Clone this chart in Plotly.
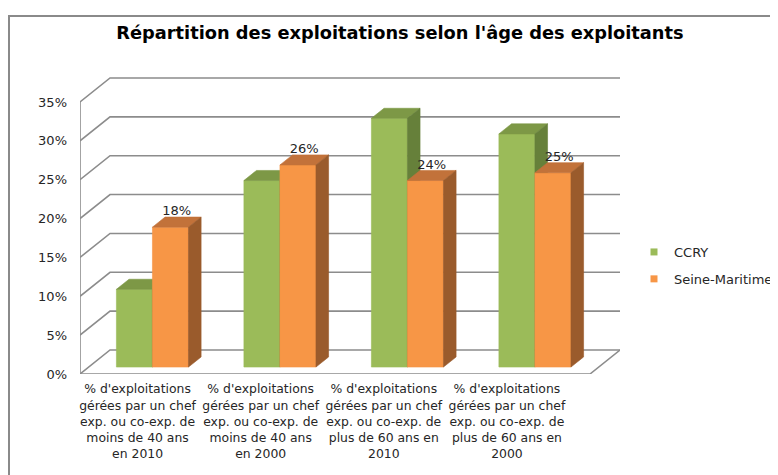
import plotly.graph_objects as go

# ---------------- data ----------------
categories = [
    "% d'exploitations<br>gérées par un chef<br>exp. ou co-exp. de<br>moins de 40 ans<br>en 2010",
    "% d'exploitations<br>gérées par un chef<br>exp. ou co-exp. de<br>moins de 40 ans<br>en 2000",
    "% d'exploitations<br>gérées par un chef<br>exp. ou co-exp. de<br>plus de 60 ans en<br>2010",
    "% d'exploitations<br>gérées par un chef<br>exp. ou co-exp. de<br>plus de 60 ans en<br>2000",
]
series_names = ["CCRY", "Seine-Maritime"]
ccry = [10, 24, 32, 30]
seine_maritime = [18, 26, 24, 25]
y_ticks = [0, 5, 10, 15, 20, 25, 30, 35]
title_text = "Répartition des exploitations selon l'âge des exploitants"

# ---------------- layout geometry (page pixels) ----------------
PAGE_W, PAGE_H = 778, 475
OFF = 8                                  # default page body margin
WF, HF = PAGE_W - OFF, PAGE_H - OFF      # figure size


def fx(p):
    return (p - OFF) / WF


def fy(p):
    return 1 - (p - OFF) / HF


PX_L, PX_RF, PX_R = 80, 589.5, 620      # front-left, front-right, back-right x
PX_B, PX_T = 374, 70                    # front floor y, top of plot area
PX_35 = 102                             # front 35% level
DEPTH_PX_X, DEPTH_PX_Y = 30, 24         # oblique depth offset
n = len(categories)
ux = (PX_RF - PX_L) / n                 # px per category unit
uy = (PX_B - PX_35) / y_ticks[-1]       # px per percent
DX = DEPTH_PX_X / ux
DY = DEPTH_PX_Y / uy
YTOP = (PX_B - PX_T) / uy
ZF, ZD = 0.29, 0.42                     # bar front depth, bar depth
BAR_W = 36 / ux
LABEL_START, LABEL_PITCH = 137.5, 123   # category label centres (px)

GRID = "#8c8c8c"
FONT = "DejaVu Sans"
TXT = "#262626"
colors = {
    "CCRY": ("#9BBB59", "#7D9846", "#66803A"),
    "Seine-Maritime": ("#F79646", "#C2723A", "#9A5B2C"),
}

fig = go.Figure()

# ---------------- walls & floor (as line traces) ----------------
def line(xs, ys):
    fig.add_trace(go.Scatter(x=xs, y=ys, mode="lines", line=dict(color=GRID, width=1.6),
                             hoverinfo="skip", showlegend=False))

for v in y_ticks:
    line([0, DX, n + DX], [v, v + DY, v + DY])
line([0, n, n + DX], [0, 0, DY])
line([0, 0], [0, y_ticks[-1]])

# ---------------- bars ----------------
def poly(pts, color):
    xs = [p[0] for p in pts] + [pts[0][0]]
    ys = [p[1] for p in pts] + [pts[0][1]]
    fig.add_trace(go.Scatter(x=xs, y=ys, mode="lines", fill="toself", fillcolor=color,
                             line=dict(color=color, width=0.6), hoverinfo="skip",
                             showlegend=False))

def box(x0, v, name):
    cf, ct, cs = colors[name]
    xf = x0 + ZF * DX
    yf = ZF * DY
    ddx, ddy = ZD * DX, ZD * DY
    poly([(xf, yf), (xf + BAR_W, yf), (xf + BAR_W, yf + v), (xf, yf + v)], cf)
    poly([(xf, yf + v), (xf + BAR_W, yf + v), (xf + BAR_W + ddx, yf + v + ddy),
          (xf + ddx, yf + v + ddy)], ct)
    poly([(xf + BAR_W, yf), (xf + BAR_W + ddx, yf + ddy), (xf + BAR_W + ddx, yf + v + ddy),
          (xf + BAR_W, yf + v)], cs)

for i in range(n):
    c = i + 0.5
    box(c - BAR_W, ccry[i], "CCRY")
    box(c, seine_maritime[i], "Seine-Maritime")

# data labels (Seine-Maritime)
fig.add_trace(go.Scatter(
    x=[i + 0.5 + ZF * DX + BAR_W / 2 + ZD * DX / 2 for i in range(n)],
    y=[v + ZF * DY + 15 / uy for v in seine_maritime],
    mode="text", text=[f"{v}%" for v in seine_maritime], textposition="middle center",
    textfont=dict(family=FONT, size=13, color=TXT), hoverinfo="skip", showlegend=False))

# legend entries
for k, name in enumerate(series_names):
    fig.add_trace(go.Scatter(x=[None], y=[None], mode="markers", name=name,
                             legendgroup=name,
                             marker=dict(symbol="square", size=7, color=colors[name][0])))

fig.update_layout(
    width=WF, height=HF,
    margin=dict(l=0, r=0, t=0, b=0, pad=0, autoexpand=False),
    paper_bgcolor="white", plot_bgcolor="rgba(0,0,0,0)",
    title=dict(text=title_text, x=fx(400), xanchor="center", y=fy(33), yanchor="middle",
               xref="paper", yref="container", automargin=False,
               font=dict(family=FONT, size=17.8, color="#000000", weight="bold")),
    xaxis=dict(domain=[fx(PX_L), fx(PX_R)], range=[0, n + DX], showgrid=False,
               zeroline=False, showline=False, automargin=False,
               tickvals=[(LABEL_START + LABEL_PITCH * i - PX_L) / ux for i in range(n)],
               ticktext=categories, tickangle=0, ticklabelstandoff=6,
               tickfont=dict(family=FONT, size=12.4, color=TXT)),
    yaxis=dict(domain=[fy(PX_B), fy(PX_T)], range=[0, YTOP], showgrid=False,
               zeroline=False, showline=False, automargin=False, tickvals=y_ticks,
               ticktext=[f"{v}%" for v in y_ticks], ticklabelstandoff=12,
               tickfont=dict(family=FONT, size=13, color=TXT)),
    legend=dict(x=fx(634), y=fy(237), xanchor="left", yanchor="top",
                font=dict(family=FONT, size=13, color=TXT), tracegroupgap=7,
                itemwidth=30, bgcolor="rgba(0,0,0,0)"),
    shapes=[dict(type="rect", xref="paper", yref="paper", x0=fx(9), y0=-0.05,
                 x1=1.05, y1=fy(16), line=dict(color="#8a8a8a", width=2))],
    showlegend=True,
)

fig.write_html("out.html")
